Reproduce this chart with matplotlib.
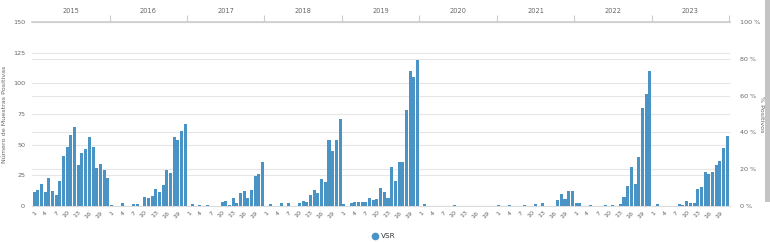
import matplotlib
matplotlib.use("Agg")
import matplotlib.pyplot as plt
from matplotlib.patches import Rectangle
from matplotlib.lines import Line2D

years = ["2015", "2016", "2017", "2018", "2019", "2020", "2021", "2022", "2023"]
week_labels = [1, 4, 7, 10, 13, 16, 19]

# muestras positivas VSR, 21 semanas por año
vsr_2015 = [11, 13, 18, 11, 23, 12, 9, 20, 41, 48, 58, 64, 33, 43, 46, 56, 48, 31, 34, 29, 23]
vsr_2016 = [0.3, 0, 0, 2, 0, 0, 1.5, 1.5, 0, 7, 6, 8, 14, 11, 17, 29, 27, 56, 54, 61, 67]
vsr_2017 = [0, 1.5, 0, 0.5, 0, 0.5, 0, 0, 0, 3, 4, 0.5, 6, 2, 10, 12, 6, 13, 24, 26, 36]
vsr_2018 = [0, 1.5, 0, 0, 2, 0, 2, 0, 0, 2, 4, 3, 9, 13, 10, 22, 19, 54, 45, 54, 71]
vsr_2019 = [1, 0, 2.5, 3, 3, 3, 3, 6.5, 4.5, 5.5, 14.5, 11, 6, 32, 20.5, 36, 36, 78, 110, 105, 119]
vsr_2020 = [0, 1.5, 0, 0, 0, 0, 0, 0, 0, 0.3, 0, 0, 0, 0, 0, 0, 0, 0, 0, 0, 0]
vsr_2021 = [0.3, 0, 0, 0.3, 0, 0, 0, 0.3, 0, 0, 1.5, 0, 2.5, 0, 0, 0, 5, 9.3, 5.5, 12, 12]
vsr_2022 = [2, 2.5, 0, 0, 0.3, 0, 0, 0, 0.3, 0, 0.3, 0, 1.4, 7.4, 16.5, 31.5, 18, 40, 80, 91, 110]
vsr_2023 = [0, 1.5, 0, 0, 0, 0, 0, 1.4, 0.5, 4, 2.5, 2.5, 13.6, 15.3, 27.3, 26.2, 27.3, 33.3, 36.6, 47.5, 57]

all_years = [vsr_2015, vsr_2016, vsr_2017, vsr_2018, vsr_2019, vsr_2020, vsr_2021, vsr_2022, vsr_2023]
values = []
for y in all_years:
    values += y
n_per = len(vsr_2015)
xs = list(range(len(values)))

blue = "#4a93c5"
txt = "#666666"
grid = "#e6e6e6"

fig = plt.figure(figsize=(7.7, 2.42), dpi=100)
ax = fig.add_axes([32 / 770, 1 - 205.7 / 242, 698 / 770, 183.4 / 242])

ax.bar(xs, values, width=0.82, color=blue, zorder=3)
ax.set_xlim(-0.55, len(values) - 0.25)
ax.set_ylim(0, 150)
ax.set_yticks([0, 25, 50, 75, 100, 125, 150])
ax.yaxis.grid(True, color=grid, lw=0.8, zorder=0)
ax.tick_params(axis="y", length=0, labelsize=4.6, labelcolor=txt, pad=5)

tick_pos = []
tick_lab = []
for k in range(len(years)):
    for w in week_labels:
        tick_pos.append(k * n_per + w - 1)
        tick_lab.append(str(w))
ax.set_xticks(tick_pos)
ax.set_xticklabels(tick_lab, rotation=45, ha="right", rotation_mode="anchor")
ax.tick_params(axis="x", length=0, labelsize=4.6, labelcolor=txt, pad=3)

for s in ["left", "right"]:
    ax.spines[s].set_visible(False)
ax.spines["bottom"].set_color("#dddddd")
ax.spines["bottom"].set_linewidth(0.8)
ax.spines["top"].set_color("#cccccc")
ax.spines["top"].set_linewidth(1.2)
ax.set_ylabel("Número de Muestras Positivas", fontsize=4.6, color=txt)
ax.yaxis.set_label_coords(-25 / 698, 0.5)

# eje derecho en %
ax2 = ax.twinx()
ax2.set_ylim(0, 100)
ax2.set_yticks([0, 20, 40, 60, 80, 100])
ax2.set_yticklabels([f"{v} %" for v in [0, 20, 40, 60, 80, 100]])
ax2.yaxis.grid(True, color=grid, lw=0.8, zorder=0)
ax2.tick_params(axis="y", length=0, labelsize=4.6, labelcolor=txt, pad=7)
for s in ["left", "right", "top", "bottom"]:
    ax2.spines[s].set_visible(False)
ax2.set_ylabel("% Positivos", fontsize=4.6, color=txt, rotation=270, va="center")
ax2.yaxis.set_label_coords(729 / 698, 0.5)
ax.set_zorder(ax2.get_zorder() + 1)
ax.patch.set_visible(False)

# años arriba
top = ax.secondary_xaxis("top")
bounds = [k * n_per - 0.5 for k in range(1, len(years))] + [len(years) * n_per - 0.5]
top.set_xticks(bounds)
top.set_xticklabels([""] * len(bounds))
top.tick_params(axis="x", which="major", length=5, color="#cccccc", width=0.8, direction="out")
top.set_xticks([k * n_per + (n_per - 1) / 2 for k in range(len(years))], minor=True)
top.set_xticklabels(years, minor=True)
top.tick_params(axis="x", which="minor", length=0, labelsize=4.8, labelcolor=txt, pad=6)
top.spines["top"].set_visible(False)

# leyenda
fig.add_artist(Line2D([375 / 770], [1 - 236 / 242], marker="o", color=blue,
                      markersize=4.5, lw=0, transform=fig.transFigure))
fig.text(381 / 770, 1 - 236 / 242, "VSR", fontsize=5.2, color="#333333",
         va="center", ha="left")

# barra lateral del navegador
fig.add_artist(Rectangle((765 / 770, 1 - 202 / 242), 5 / 770, 202 / 242,
                         transform=fig.transFigure, color="#c4c4c4", lw=0))

fig.savefig("out.png", dpi=100)
